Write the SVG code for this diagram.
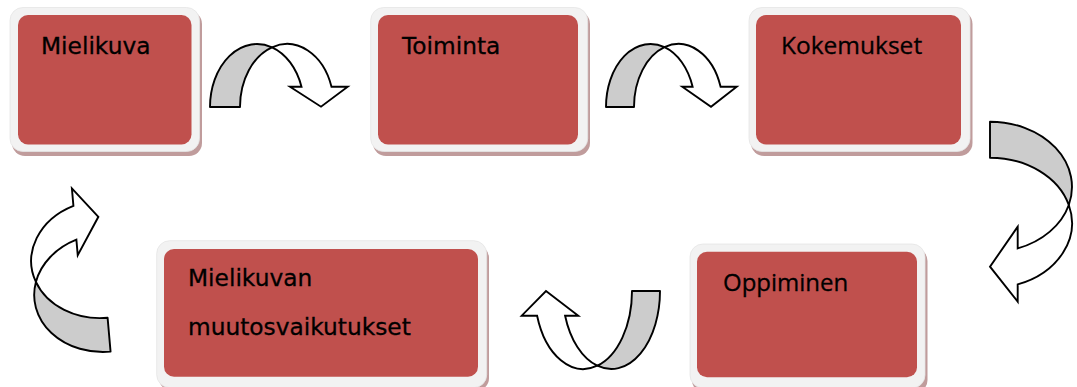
<svg xmlns="http://www.w3.org/2000/svg" width="1077" height="387" viewBox="0 0 1077 387">
<style>
.shadow{fill:#c09c9c}
.frame{fill:#f2f2f2;stroke:#e4e4e4;stroke-width:0.8}
.card{fill:#c0504d}
.t1{font-family:"DejaVu Sans",Verdana,sans-serif;font-size:23.3px;fill:#000;stroke:#000;stroke-width:0.3}
.t2{font-family:"Open Sans","Liberation Sans",sans-serif;font-size:24.5px;fill:#000;stroke:#000;stroke-width:0.3}
.back{fill:#cccccc;stroke:#000;stroke-width:1.9;stroke-linejoin:round}
.front{fill:#fff;stroke:#000;stroke-width:1.9;stroke-linejoin:miter}
</style>
<rect width="1077" height="387" fill="#fff"/>

<g id="node-mielikuva">
<rect class="shadow" x="12" y="11" width="190" height="145" rx="13"/>
<rect class="frame" x="10" y="7.5" width="189.5" height="144" rx="13"/>
<rect class="card" x="18" y="15" width="173.5" height="129.5" rx="10"/>
<text class="t1" x="41" y="54">Mielikuva</text>
</g>

<g id="node-toiminta">
<rect class="shadow" x="373" y="11" width="217" height="145" rx="13"/>
<rect class="frame" x="370.7" y="7.5" width="217" height="144" rx="13"/>
<rect class="card" x="378" y="15" width="200" height="129.5" rx="10"/>
<text class="t1" x="402" y="54">Toiminta</text>
</g>

<g id="node-kokemukset">
<rect class="shadow" x="751" y="11" width="221.5" height="145" rx="13"/>
<rect class="frame" x="749" y="7.5" width="221" height="144" rx="13"/>
<rect class="card" x="756" y="15" width="205" height="129.5" rx="10"/>
<text class="t2" x="781" y="54">Kokemukset</text>
</g>

<g id="node-oppiminen">
<rect class="shadow" x="692" y="248" width="235.5" height="145" rx="13"/>
<rect class="frame" x="690" y="244" width="235" height="144" rx="13"/>
<rect class="card" x="697" y="251.7" width="220" height="125.5" rx="10"/>
<text class="t2" x="723" y="291" style="font-size:24px">Oppiminen</text>
</g>

<g id="node-muutosvaikutukset">
<rect class="shadow" x="159" y="245" width="330" height="146" rx="13"/>
<rect class="frame" x="156.7" y="240.7" width="330" height="147" rx="13"/>
<rect class="card" x="164" y="249" width="314" height="127.7" rx="10"/>
<text class="t1" x="188" y="286">Mielikuvan</text>
<text class="t1" x="188" y="335">muutosvaikutukset</text>
</g>

<g id="connectors">
<g id="arrow-1">
<path class="back" d="M210,107 A47,63 0 0 1 272,47.3 A47,63 0 0 0 240,107 Z"/>
<path class="front" d="M272,47.3 A47,63 0 0 1 331.5,86.7 L347.7,86.7 L321,106.7 L290,86.7 L301.5,86.7 A47,63 0 0 0 272,47.3 Z"/>
</g>
<g id="arrow-2">
<path class="back" d="M606,107 A44.5,63 0 0 1 664.5,47.2 A44.5,63 0 0 0 634,107 Z"/>
<path class="front" d="M664.5,47.2 A44.5,63 0 0 1 720.6,86.7 L736.7,86.7 L711,106.7 L682.3,86.7 L692.6,86.7 A44.5,63 0 0 0 664.5,47.2 Z"/>
</g>
<g id="arrow-3">
<path class="back" d="M990,121.7 A82,65.3 0 0 1 1068.8,205 A82,65.3 0 0 0 990,157.7 Z"/>
<path class="front" d="M1068.8,205 A82,65.3 0 0 1 1017.7,284.46 L1017.7,301.7 L990,266.7 L1017.7,226.7 L1017.7,248.46 A82,65.3 0 0 0 1068.8,205 Z"/>
</g>
<g id="arrow-4">
<path class="back" d="M660,291 A48.7,78 0 0 1 597.3,365.7 A48.7,78 0 0 0 632,291 Z"/>
<path class="front" d="M597.3,365.7 A48.7,78 0 0 1 537.1,315.7 L521.7,315.7 L546,291 L578.3,315.7 L565.1,315.7 A48.7,78 0 0 0 597.3,365.7 Z"/>
</g>
<g id="arrow-5" transform="rotate(-5 70 270)">
<path class="back" d="M103.3,354.9 A71.3,59 0 0 1 35,278.9 A71.3,59 0 0 0 103.3,320.9 Z"/>
<path class="front" d="M35,278.9 A71.3,59 0 0 1 79,206.4 L79,188.8 L102.9,219.5 L79,255.9 L79,240.4 A71.3,59 0 0 0 35,278.9 Z"/>
</g>
</g>
</svg>
